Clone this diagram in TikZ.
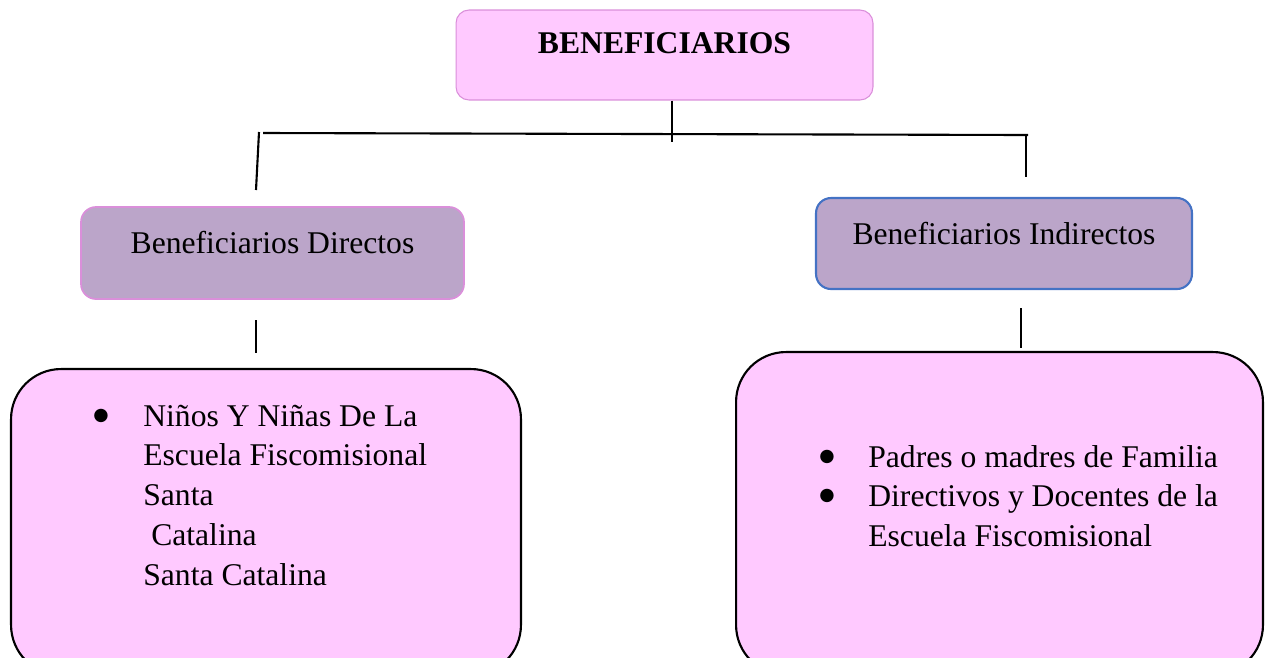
\documentclass[tikz,border=0pt]{standalone}
\usepackage{fontspec}
\setmainfont{Liberation Serif}
\newfontfamily\dotfont{DejaVu Sans}
\usetikzlibrary{calc,positioning}
\definecolor{pinkfill}{RGB}{255,201,255}
\definecolor{orchidline}{RGB}{218,143,218}
\definecolor{mauvefill}{RGB}{187,165,201}
\definecolor{blueline}{RGB}{68,114,196}
\newcommand{\boxfont}{\fontsize{18}{22.7}\selectfont}
\newcommand{\bigdot}{\raisebox{0.12cm}{\dotfont\fontsize{10}{10}\selectfont ●}}
\tikzset{
	titlebox/.style={draw=orchidline, line width=0.6pt, fill=pinkfill, rounded corners=0.26cm},
	midbox/.style={fill=mauvefill, rounded corners=0.3cm, anchor=base, text height=0.92cm},
	listbox/.style={draw=black, line width=1.2pt, fill=pinkfill, rounded corners=1cm},
}

\begin{document}
\begin{tikzpicture}[x=0.02cm, y=-0.02cm]
		\tikzstyle{every node}=[font=\boxfont, inner sep=0pt]
		\useasboundingbox (0,0) rectangle (1273,657);
		\clip (0,0) rectangle (1273,657);
		% cabecera
		\node [titlebox, anchor=base, minimum width=8.34cm, text height=0.86cm, text depth=0.94cm] (top) at (664.5,53) {\textbf{BENEFICIARIOS}};
		\node [midbox, draw=orchidline, line width=1pt, minimum width=7.66cm, text depth=0.92cm] (dir) at (272.5,253) {Beneficiarios Directos};
		\node [midbox, draw=blueline, line width=1.2pt, minimum width=7.52cm, text depth=0.9cm] (ind) at (1004,244) {Beneficiarios Indirectos};
		% cajas de abajo
		\node [listbox, minimum width=10.2cm, minimum height=6.12cm] (dirbox) at (266,522) {};
		\node [listbox, minimum width=10.54cm, minimum height=6.46cm] (indbox) at (999.5,513.5) {};
		\node [anchor=base west] (dirlist) at (93,426) {\begin{tabular}[t]{@{}p{1cm}@{}l@{}}
			\bigdot & Niños Y Niñas De La\\
			& Escuela Fiscomisional\\
			& Santa\\
			& \ Catalina\\
			& Santa Catalina
		\end{tabular}};
		\node [anchor=base west] (indlist) at (819,467) {\begin{tabular}[t]{@{}p{0.98cm}@{}l@{}}
			\bigdot & Padres o madres de Familia\\
			\bigdot & Directivos y Docentes de la\\
			& Escuela Fiscomisional
		\end{tabular}};
		% lineas
		\coordinate (busL) at (263,133);
		\coordinate (busR) at (1028,135);
		\coordinate (busM) at (672,142);
		\coordinate (dirA) at (259,132);
		\coordinate (dirB) at (256,190);
		\coordinate (indA) at (1026,135);
		\coordinate (indB) at (1026,177);
		\coordinate (dirC) at (256,320);
		\coordinate (dirD) at (256,353);
		\coordinate (indC) at (1021,308);
		\coordinate (indD) at (1021,348);
		\draw [line width=1.2pt] (busL) -- (busR);
		\draw [line width=1.2pt] (top.south -| busM) -- (busM);
		\draw [line width=1.2pt] (dirA) -- (dirB);
		\draw [line width=1.2pt] (indA) -- (indB);
		\draw [line width=1.2pt] (dirC) -- (dirD);
		\draw [line width=1.2pt] (indC) -- (indD);
	\end{tikzpicture}
\end{document}
